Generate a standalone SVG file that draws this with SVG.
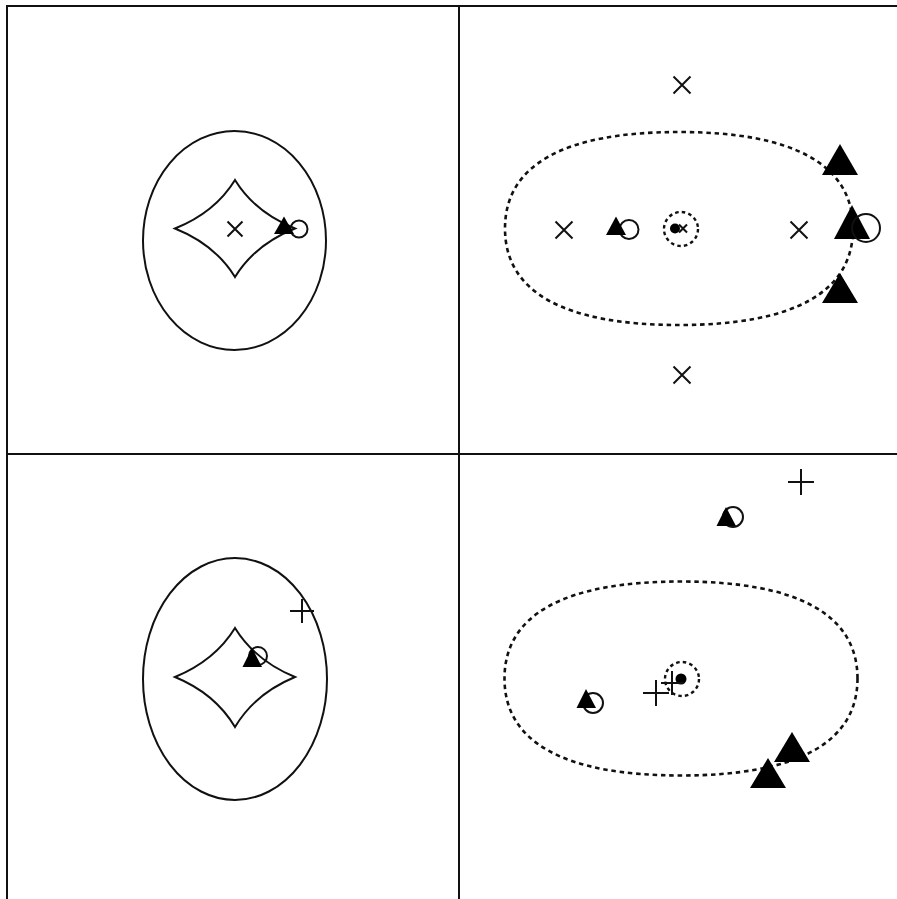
<svg xmlns="http://www.w3.org/2000/svg" width="897" height="899" viewBox="0 0 897 899">
<style>
.frame{stroke:#111;stroke-width:2;fill:none}
.solid{stroke:#111;stroke-width:2;fill:none}
.dash{stroke:#111;stroke-width:2.6;fill:none;stroke-dasharray:4.5 3.8}
.dashs{stroke:#111;stroke-width:2.4;fill:none;stroke-dasharray:3.5 3.2}
.mk{stroke:#111;stroke-width:2;fill:none}
.tri{fill:#000;stroke:none}
.ring{stroke:#111;stroke-width:2;fill:none}
.dot{fill:#000}
</style>
<rect width="897" height="899" fill="#fff"/>
<g id="frame">
<line class="frame" x1="6" y1="6" x2="897" y2="6"/>
<line class="frame" x1="7" y1="6" x2="7" y2="899"/>
<line class="frame" x1="459" y1="6" x2="459" y2="899"/>
<line class="frame" x1="7" y1="454" x2="897" y2="454"/>
</g>
<g id="panel-top-left">
<ellipse class="solid" cx="234.5" cy="240.5" rx="91.5" ry="109.5"/>
<path class="solid" d="M175,228.5 Q215,212.5 235,180 Q255,212.5 295,228.5 Q255,244.5 235,277 Q215,244.5 175,228.5 Z"/>
<path class="mk" d="M227.5,221.5 L242.5,236.5 M242.5,221.5 L227.5,236.5"/>
<circle class="ring" cx="299" cy="229" r="8.5"/>
<polygon class="tri" points="284,216.5 274,234 294,234"/>
</g>
<g id="panel-top-right">
<path class="dash" d="M853,228.5 C853,164.8 793.8,132 679,132 C564.2,132 505,164.8 505,228.5 C505,292.2 564.2,325 679,325 C793.8,325 853,292.2 853,228.5 Z"/>
<circle class="dashs" cx="681" cy="229" r="17"/>
<circle class="dot" cx="675" cy="228.5" r="5"/>
<path class="mk" d="M679,224.5 L687,232.5 M687,224.5 L679,232.5" stroke-width="1.6"/>
<path class="mk" d="M673.5,76.5 L690.5,93.5 M690.5,76.5 L673.5,93.5"/>
<path class="mk" d="M673.5,366.5 L690.5,383.5 M690.5,366.5 L673.5,383.5"/>
<path class="mk" d="M555.5,221.5 L572.5,238.5 M572.5,221.5 L555.5,238.5"/>
<path class="mk" d="M790.5,221.5 L807.5,238.5 M807.5,221.5 L790.5,238.5"/>
<circle class="ring" cx="629" cy="229.5" r="9.5"/>
<polygon class="tri" points="616,216.5 606,235 626,235"/>
<polygon class="tri" points="840,144 822,175 858,175"/>
<polygon class="tri" points="852,205 834,239 870,239"/>
<polygon class="tri" points="840,273 822,303 858,303"/>
<circle class="ring" cx="866" cy="228" r="14"/>
</g>
<g id="panel-bottom-left">
<ellipse class="solid" cx="235" cy="679" rx="92" ry="121"/>
<path class="solid" d="M175,677 Q215,660.5 235,628 Q255,660.5 295,677 Q255,693.5 235,727 Q215,693.5 175,677 Z"/>
<circle class="ring" cx="258" cy="656" r="9"/>
<polygon class="tri" points="252,648 242.5,667 262,667"/>
<path class="mk" d="M290,611 L314,611 M302,599 L302,623"/>
</g>
<g id="panel-bottom-right">
<path class="dash" d="M857.5,678.5 C857.5,614.5 797.5,581.5 681,581.5 C564.5,581.5 504.5,614.5 504.5,678.5 C504.5,742.5 564.5,775.5 681,775.5 C797.5,775.5 857.5,742.5 857.5,678.5 Z"/>
<circle class="dashs" cx="682" cy="679" r="17"/>
<circle class="dot" cx="681" cy="679" r="5.5"/>
<path class="mk" d="M661,683 L684,683 M672,671 L672,695"/>
<path class="mk" d="M643,693 L669,693 M656,680 L656,706"/>
<circle class="ring" cx="593" cy="703" r="10"/>
<polygon class="tri" points="586,689 576.5,708 596,708"/>
<path class="mk" d="M788,482 L814,482 M801,469 L801,495"/>
<circle class="ring" cx="733" cy="517" r="10"/>
<polygon class="tri" points="726,507 716.5,526 736,526"/>
<polygon class="tri" points="792,732 774,762 810,762"/>
<polygon class="tri" points="768,758 750,788 786,788"/>
</g>
</svg>
